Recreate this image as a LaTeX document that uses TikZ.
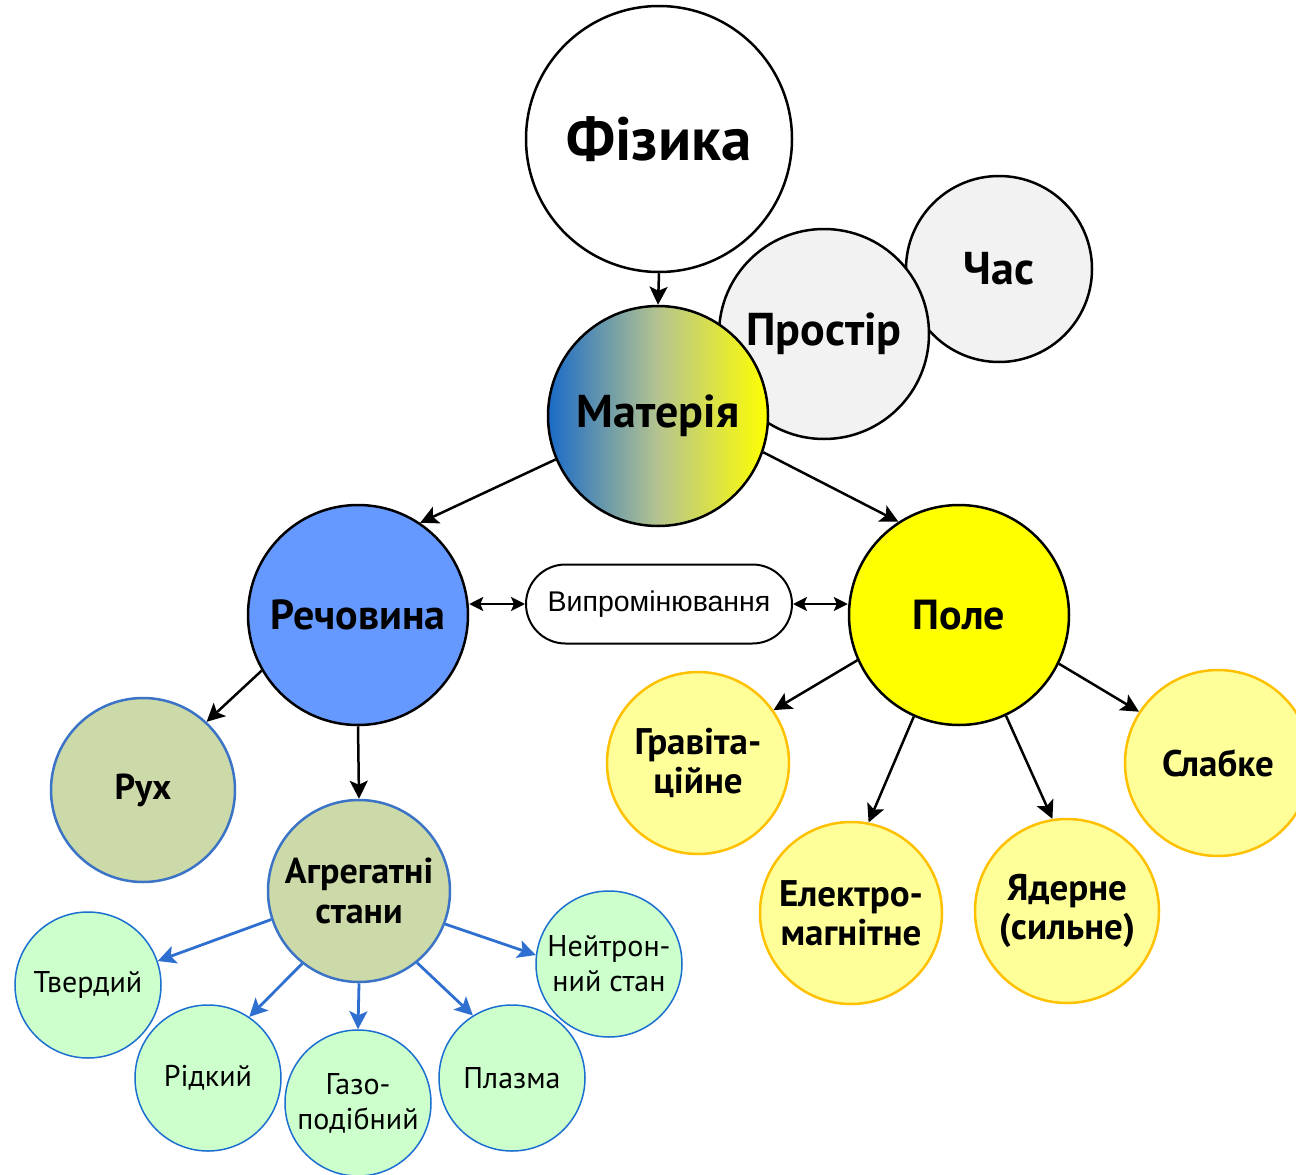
\documentclass[tikz,border=0pt]{standalone}
\usepackage{fontspec}
\setmainfont{PT Sans}
\newfontfamily\arialf{Liberation Sans}
\usetikzlibrary{arrows.meta,shapes.geometric,shapes.misc}
\definecolor{matblue}{HTML}{1A6BC8}
\definecolor{matmid}{HTML}{B5C48F}
\definecolor{rechblue}{HTML}{6699FF}
\definecolor{olivefill}{HTML}{CCD9A8}
\definecolor{midblue}{HTML}{3B74C6}
\definecolor{greenfill}{HTML}{CCFFCC}
\definecolor{greenedge}{HTML}{1A6FD0}
\definecolor{lyellow}{HTML}{FFFF99}
\definecolor{gold}{HTML}{FFC000}
\definecolor{lightgray}{HTML}{F2F2F2}
\definecolor{arrowblue}{HTML}{2F6FD0}
\definecolor{pureyellow}{RGB}{255,255,0}
\newcommand{\fsz}[2]{\fontsize{#1}{#2}\selectfont}
\tikzset{
  bubble/.style={circle, draw=black, line width=2.5pt, inner sep=0pt, align=center},
  bigbold/.style={font=\fsz{46}{52}\bfseries},
  midbold/.style={font=\fsz{42}{48}\bfseries},
  olivebub/.style={circle, draw=midblue, fill=olivefill, line width=2.5pt, inner sep=0pt, align=center, minimum size=182pt, font=\fsz{36}{40}\bfseries},
  greenbub/.style={circle, draw=greenedge, fill=greenfill, line width=1.5pt, inner sep=0pt, align=center, minimum size=146pt, font=\fsz{30}{35}},
  yelbub/.style={circle, draw=gold, fill=lyellow, line width=2.5pt, inner sep=0pt, align=center, minimum size=182pt, font=\fsz{37}{39}\bfseries},
  blk/.style={line width=2.5pt, black, -{Stealth[length=18pt,width=18pt,inset=4pt]}},
  blkboth/.style={line width=2.2pt, black, {Stealth[length=14pt,width=14pt,inset=3pt]}-{Stealth[length=14pt,width=14pt,inset=3pt]}},
  blu/.style={line width=2.8pt, arrowblue, -{Stealth[length=18pt,width=18pt,inset=4pt]}},
}
\begin{document}
\begin{tikzpicture}[x=1pt,y=-1pt]
\useasboundingbox (0,0) rectangle (1296,1175);
\clip (0,0) rectangle (1296,1175);
\fill[white] (0,0) rectangle (1296,1175);

% top group
\node[bubble, fill=white, minimum size=266pt, font=\fsz{61}{66}\bfseries] (fiz) at (659,139) {Фізика};
\node[bubble, fill=lightgray, minimum size=186pt, bigbold] (chas) at (999,269) {Час};
\node[bubble, fill=lightgray, minimum size=210pt, bigbold] (prost) at (824,334) {Простір};
\node[bubble, shading=axis, left color=matblue, right color=pureyellow, middle color=matmid, minimum size=220pt, bigbold] (mat) at (658,416) {Матерія};

% second level
\node[bubble, fill=rechblue, minimum size=220pt, midbold] (rech) at (358,615) {Речовина};
\node[bubble, fill=pureyellow, minimum size=220pt, midbold] (pole) at (959,615) {Поле};
\node[rounded rectangle, draw=black, line width=2pt, fill=white, minimum width=266pt, minimum height=79pt, inner sep=0pt, font=\arialf\fsz{28.5}{32}] (vyp) at (659,604) {Випромінювання};

% left branch
\node[olivebub, minimum size=184pt] (rukh) at (143,790) {Рух};
\node[olivebub] (agr) at (359,891) {Агрегатні\\стани};
\node[greenbub] (tv) at (88,985) {Твердий};
\node[greenbub] (rid) at (208,1078) {Рідкий};
\node[greenbub] (gaz) at (358,1103) {Газо-\\подібний};
\node[greenbub] (plaz) at (512,1078) {Плазма};
\node[greenbub] (neit) at (609,964) {Нейтрон-\\ний стан};

% right branch
\node[yelbub] (grav) at (698,763) {Гравіта-\\ційне};
\node[yelbub] (elek) at (851,913) {Електро-\\магнітне};
\node[yelbub, minimum size=184pt] (yad) at (1067,911) {Ядерне\\(сильне)};
\node[yelbub, minimum size=186pt] (slab) at (1218,763) {Слабке};

% connectors
\draw[blk] (fiz.south) -- (mat.north);
\draw[blk] (mat.203) -- (rech.56);
\draw[blk] (mat.341) -- (pole.123);
\draw[blkboth] (vyp.west -| rech.east) -- (vyp.west);
\draw[blkboth] (vyp.east) -- (vyp.east -| pole.west);
\draw[blk] (rech.210) -- (rukh.47);
\draw[blk] (rech.south) -- (agr.north);
\draw[blk] (pole.204) -- (grav.35);
\draw[blk] (pole.246) -- (elek.79);
\draw[blk] (pole.295) -- (yad.99);
\draw[blk] (pole.334) -- (slab.147);
\draw[blu] (agr.198) -- (tv.19);
\draw[blu] (agr.232) -- (rid.56);
\draw[blu] (agr.south) -- (gaz.north);
\draw[blu] (agr.309) -- (plaz.122);
\draw[blu] (agr.339) -- (neit.173);
\end{tikzpicture}
\end{document}
